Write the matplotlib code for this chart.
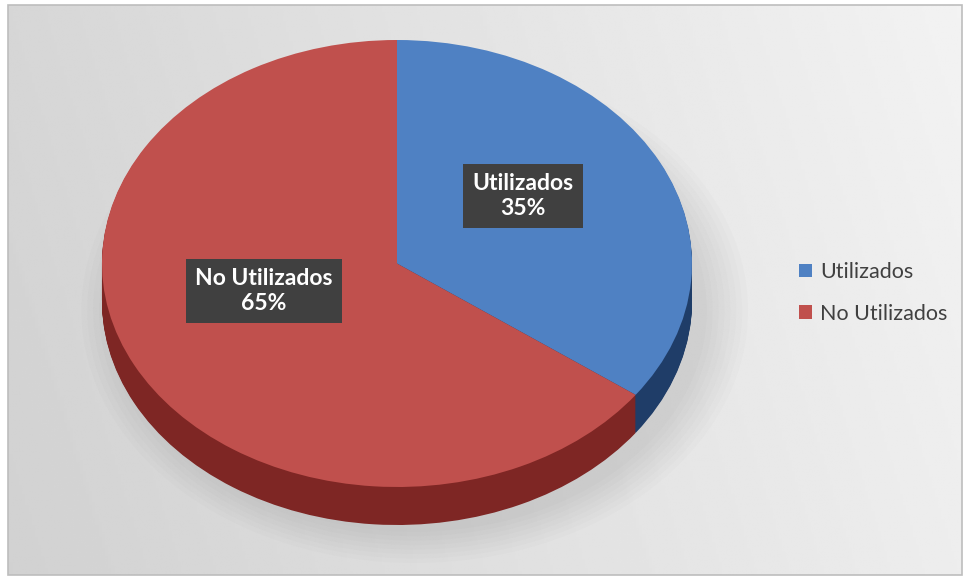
import matplotlib
matplotlib.use('Agg')
import matplotlib.pyplot as plt
from matplotlib.patches import Ellipse, Rectangle
import numpy as np

# data
categories = ['Utilizados', 'No Utilizados']
values = [35, 65]
labels_pct = ['35%', '65%']
top_colors = ['#4f81c3', '#c0504d']
side_colors = ['#1f3d68', '#7e2624']

W, H = 967, 579
fig = plt.figure(figsize=(W / 100, H / 100), dpi=100)
fig.patch.set_facecolor('white')

# background panel with a soft gradient
bg = fig.add_axes([0, 0, 1, 1])
bg.set_xlim(0, W)
bg.set_ylim(H, 0)
bg.axis('off')
xx, yy = np.meshgrid(np.linspace(0, 1, 300), np.linspace(0, 1, 200))
grad = 0.84 + 0.11 * xx - 0.02 * yy
bg.imshow(grad, cmap='gray', vmin=0, vmax=1, extent=[8, 962, 575, 5], aspect='auto')
bg.add_patch(Rectangle((8, 5), 954, 570, fill=False, ec='#bdbdbd', lw=1.2))

# pie axes (elliptical): x unit = 295 px, y unit = 223.5 px
cx, cy, rx, ry = 397, 263.5, 295, 223.5
depth = 38 / ry
ax = fig.add_axes([(cx - rx) / W, 1 - (cy + ry + 38) / H, 2 * rx / W, (2 * ry + 38) / H])

# soft shadow
for k in range(8):
    ax.add_patch(Ellipse((0.06, -depth - 0.04), 1.98 + 0.04 * k, 1.98 + 0.04 * k,
                         fc='#8a8a8a', ec='none', alpha=0.03, zorder=0, clip_on=False))

# side of the pie: stacked copies shifted down
for d in np.linspace(depth, 0.005, 40):
    ax.pie(values, colors=side_colors, startangle=90, counterclock=False,
           center=(0, -d), wedgeprops=dict(linewidth=0))

# top face
wedges, _ = ax.pie(values, colors=top_colors, startangle=90, counterclock=False,
                   wedgeprops=dict(linewidth=0))

ax.set_aspect('auto')
ax.set_xlim(-1, 1)
ax.set_ylim(-1 - depth, 1)
ax.axis('off')

# data labels
label_pos = [(0.427, 0.302), (-0.451, -0.123)]
for (lx, ly), cat, pct in zip(label_pos, categories, labels_pct):
    ax.text(lx, ly, cat + '\n' + pct, ha='center', va='center', color='white',
            fontsize=16.5, fontweight='bold', family=['Lato', 'DejaVu Sans'],
            linespacing=1.2, zorder=10,
            bbox=dict(boxstyle='square,pad=0.42', fc='#404040', ec='none'))

# legend
leg = fig.legend(wedges, categories, loc='center left', bbox_to_anchor=(780 / W, 1 - 293 / H),
                 frameon=False, handlelength=0.6, handleheight=0.6, handletextpad=0.35,
                 labelspacing=1.0, prop=dict(family=['Lato', 'DejaVu Sans'], size=15.5))
for t in leg.get_texts():
    t.set_color('#404040')

fig.savefig('out.png', dpi=100)
